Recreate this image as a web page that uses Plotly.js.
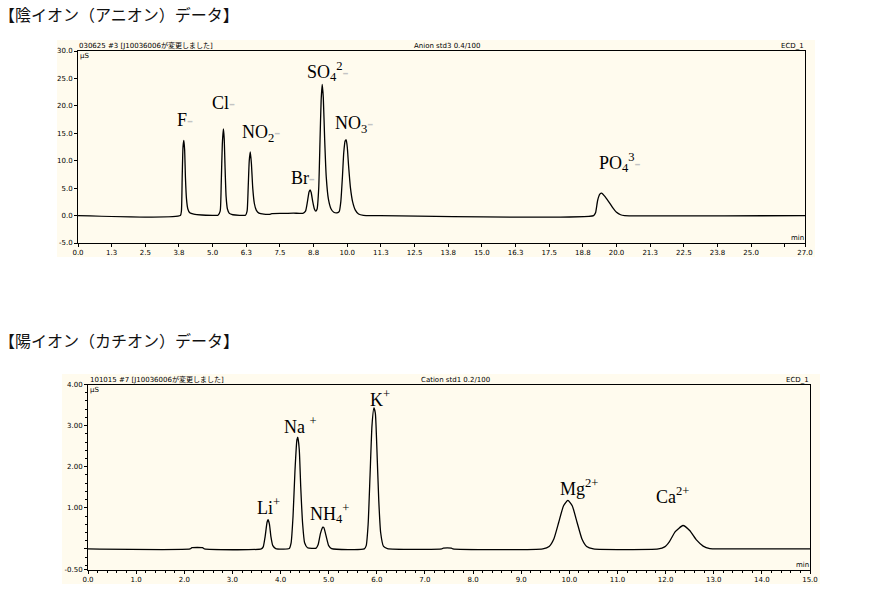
<!DOCTYPE html>
<html>
<head>
<meta charset="utf-8">
<script src="https://cdn.plot.ly/plotly-3.0.1.min.js"></script>
<style>
html,body{margin:0;padding:0;background:#fff;}
#chart{width:870px;height:605px;}
</style>
</head>
<body>
<div id="chart"></div>
<script>
// ---------- Data ----------
// Anion chromatogram (time in min, conductivity in μS)
const anionTime = [0, 3.80, 3.84, 3.87, 3.90, 3.93, 3.96, 3.99, 4.03, 4.08, 4.15, 4.30, 4.60, 5.00, 5.20,
  5.28, 5.32, 5.36, 5.40, 5.43, 5.46, 5.50, 5.55, 5.62, 5.75, 6.00, 6.22,
  6.28, 6.32, 6.36, 6.40, 6.44, 6.49, 6.55, 6.62, 6.72, 6.90, 7.10, 7.20, 7.60, 8.00, 8.35,
  8.45, 8.52, 8.58, 8.62, 8.66, 8.72, 8.78, 8.83, 8.88, 8.94, 8.99, 9.03, 9.07, 9.11, 9.16, 9.22, 9.30, 9.40, 9.50, 9.62,
  9.70, 9.76, 9.82, 9.87, 9.92, 9.96, 10.00, 10.05, 10.12, 10.20, 10.30, 10.42, 10.60, 11.00,
  19.15, 19.22, 19.30, 19.38, 19.45, 19.55, 19.70, 19.85, 20.00, 20.15, 20.30, 27.0];
const anionSignal = [0, 0, 0.8, 7, 12.5, 13.7, 12, 7, 3, 1.2, 0.5, 0.25, 0.1, 0.05, 0.05,
  0.8, 6, 13, 15.8, 14, 9, 3.5, 1.2, 0.4, 0.15, 0.05, 0.05,
  0.8, 5, 10, 11.6, 9.5, 5, 2.2, 1.0, 0.45, 0.25, 0.22, 0.35, 0.4, 0.45, 0.4,
  0.8, 2.5, 4.3, 4.7, 4.2, 2.5, 1.2, 0.8, 1.2, 5, 14, 21, 23.9, 21.5, 14, 7, 3, 1.2, 0.6, 0.5,
  0.7, 2.5, 7, 11.5, 13.6, 13.8, 12.5, 9, 5, 2.5, 1, 0.3, 0.05, 0,
  0, 0.5, 2.8, 3.9, 4.1, 3.6, 2.6, 1.5, 0.6, 0.15, 0, 0];

// Cation chromatogram (time in min, conductivity in μS)
const cationTime = [0, 2.12, 2.16, 2.38, 2.42, 3.60, 3.64, 3.68, 3.72, 3.74, 3.77, 3.80, 3.84, 3.90,
  4.18, 4.22, 4.26, 4.30, 4.34, 4.36, 4.39, 4.42, 4.46, 4.50, 4.56,
  4.74, 4.78, 4.83, 4.88, 4.90, 4.95, 5.00, 5.06,
  5.74, 5.78, 5.82, 5.86, 5.90, 5.94, 5.97, 6.00, 6.04, 6.08, 6.14, 6.22,
  7.35, 7.38, 7.55, 7.58,
  9.45, 9.58, 9.68, 9.78, 9.88, 9.97, 10.06, 10.16, 10.26, 10.36, 10.50,
  11.85, 11.98, 12.08, 12.20, 12.36, 12.50, 12.64, 12.78, 12.92, 13.10, 15.0];
const cationSignal = [0, 0, 0.03, 0.03, 0, 0, 0.05, 0.3, 0.65, 0.71, 0.6, 0.3, 0.08, 0.01,
  0.01, 0.15, 0.8, 1.9, 2.65, 2.72, 2.4, 1.5, 0.6, 0.15, 0.03,
  0.02, 0.1, 0.38, 0.53, 0.52, 0.3, 0.08, 0.01,
  0, 0.08, 0.6, 1.8, 3.0, 3.43, 3.3, 2.5, 1.2, 0.4, 0.06, 0.01,
  0, 0.02, 0.02, 0,
  0, 0.06, 0.25, 0.65, 1.05, 1.18, 1.05, 0.65, 0.25, 0.06, 0,
  0, 0.05, 0.18, 0.42, 0.57, 0.45, 0.22, 0.07, 0.01, 0, 0];

// Tick labels
const anionXTicks = [0, 1.25, 2.5, 3.75, 5, 6.25, 7.5, 8.75, 10, 11.25, 12.5, 13.75, 15, 16.25, 17.5, 18.75, 20, 21.25, 22.5, 23.75, 25, 26.25, 27];
const anionXLabels = ['0.0','1.3','2.5','3.8','5.0','6.3','7.5','8.8','10.0','11.3','12.5','13.8','15.0','16.3','17.5','18.8','20.0','21.3','22.5','23.8','25.0','','27.0'];
const anionYTicks = [-5, 0, 5, 10, 15, 20, 25, 30];
const anionYLabels = ['-5.0','0.0','5.0','10.0','15.0','20.0','25.0','30.0'];
const cationXTicks = [0,1,2,3,4,5,6,7,8,9,10,11,12,13,14,15];
const cationXLabels = ['0.0','1.0','2.0','3.0','4.0','5.0','6.0','7.0','8.0','9.0','10.0','11.0','12.0','13.0','14.0','15.0'];
const cationYTicks = [-0.5, 0, 1, 2, 3, 4];
const cationYLabels = ['-0.50','','1.00','2.00','3.00','4.00'];

// Peak labels
const minus = '<span style="color:#c4c4c4">-</span>';
const anionPeakNames = ['F'+minus, 'Cl'+minus, 'NO<sub>2</sub>'+minus, 'Br'+minus, 'SO<sub>4</sub><sup>2</sup>'+minus, 'NO<sub>3</sub>'+minus, 'PO<sub>4</sub><sup>3</sup>'+minus];
const anionPeakLabelX = [3.62, 4.92, 6.00, 7.82, 8.42, 9.46, 19.27];
const anionPeakLabelY = [17.5, 20.5, 15.0, 6.8, 26.3, 16.6, 9.7];
const cationPeakNames = ['Li<sup>+</sup>', 'Na <sup>+</sup>', 'NH<sub>4</sub><sup>+</sup>', 'K<sup>+</sup>', 'Mg<sup>2+</sup>', 'Ca<sup>2+</sup>'];
const cationPeakLabelX = [3.47, 4.03, 4.57, 5.82, 9.77, 11.75];
const cationPeakLabelY = [1.03, 3.0, 0.86, 3.66, 1.5, 1.3];

// ---------- Layout helpers ----------
const W = 870, H = 605;
const px = v => v / W;
const py = v => 1 - v / H;
const tickFont = {family: 'DejaVu Sans, Noto Sans CJK JP', size: 7, color: '#000'};
const peakFont = {family: 'Liberation Serif, Times New Roman, serif', size: 18, color: '#000'};
const titleFont = {family: 'Noto Sans CJK JP', size: 16, color: '#111'};

const traces = [
  {x: anionTime, y: anionSignal, xaxis: 'x', yaxis: 'y', mode: 'lines', hoverinfo: 'skip',
   line: {color: '#000', width: 1.3, shape: 'spline', smoothing: 0.5}},
  {x: cationTime, y: cationSignal, xaxis: 'x2', yaxis: 'y2', mode: 'lines', hoverinfo: 'skip',
   line: {color: '#000', width: 1.3, shape: 'spline', smoothing: 0.5}}
];

const axBase = {showgrid: false, zeroline: false, showline: true, mirror: true, linecolor: '#000', linewidth: 1,
  ticks: 'outside', ticklen: 3, tickcolor: '#000', tickwidth: 1, tickfont: tickFont, tickmode: 'array', fixedrange: true};

const annotations = [];
anionPeakNames.forEach((t, i) => annotations.push({text: t, x: anionPeakLabelX[i], y: anionPeakLabelY[i], xref: 'x', yref: 'y',
  xanchor: 'left', yanchor: 'middle', showarrow: false, font: peakFont}));
cationPeakNames.forEach((t, i) => annotations.push({text: t, x: cationPeakLabelX[i], y: cationPeakLabelY[i], xref: 'x2', yref: 'y2',
  xanchor: 'left', yanchor: 'middle', showarrow: false, font: peakFont}));

function addText(text, x, y, xa, ya, font) {
  annotations.push({text: text, x: px(x), y: py(y), xref: 'paper', yref: 'paper', xanchor: xa, yanchor: ya,
    showarrow: false, font: font, borderpad: 0});
}
addText('【陰イオン（アニオン）データ】', -2, 14, 'left', 'middle', titleFont);
addText('【陽イオン（カチオン）データ】', -2, 340, 'left', 'middle', titleFont);
// Top chart header
addText('030625 #3 [J10036006が変更しました]', 78, 51, 'left', 'bottom', tickFont);
addText('Anion std3 0.4/100', 413, 51, 'left', 'bottom', tickFont);
addText('ECD_1', 805, 51, 'right', 'bottom', tickFont);
addText('μS', 79, 51, 'left', 'top', tickFont);
addText('min', 805, 243, 'right', 'bottom', tickFont);
// Bottom chart header
addText('101015 #7 [J10036006が変更しました]', 89, 384.5, 'left', 'bottom', tickFont);
addText('Cation std1 0.2/100', 420, 384.5, 'left', 'bottom', tickFont);
addText('ECD_1', 810, 384.5, 'right', 'bottom', tickFont);
addText('μS', 89, 384.5, 'left', 'top', tickFont);
addText('min', 810, 569.5, 'right', 'bottom', tickFont);

const shapes = [
  {type: 'rect', xref: 'paper', yref: 'paper', x0: px(57), x1: px(815), y0: py(257), y1: py(40), fillcolor: '#fffbee', line: {width: 0}, layer: 'below'},
  {type: 'rect', xref: 'paper', yref: 'paper', x0: px(62), x1: px(820), y0: py(584), y1: py(374), fillcolor: '#fffbee', line: {width: 0}, layer: 'below'}
];

const layout = {
  width: W, height: H,
  margin: {l: 0, r: 0, t: 0, b: 0, pad: 0},
  paper_bgcolor: '#ffffff',
  plot_bgcolor: 'rgba(0,0,0,0)',
  showlegend: false,
  xaxis: Object.assign({}, axBase, {domain: [px(78), px(805)], range: [0, 27], tickvals: anionXTicks, ticktext: anionXLabels, anchor: 'y'}),
  yaxis: Object.assign({}, axBase, {domain: [py(243), py(51)], range: [-5, 30], tickvals: anionYTicks, ticktext: anionYLabels, anchor: 'x'}),
  xaxis2: Object.assign({}, axBase, {domain: [px(88), px(810)], range: [0, 15], tickvals: cationXTicks, ticktext: cationXLabels, anchor: 'y2',
    minor: {tickmode: 'linear', tick0: 0, dtick: 0.2, ticks: 'outside', ticklen: 2, tickcolor: '#000', showgrid: false}}),
  yaxis2: Object.assign({}, axBase, {domain: [py(569.5), py(384.5)], range: [-0.5, 4], tickvals: cationYTicks, ticktext: cationYLabels, anchor: 'x2',
    minor: {tickmode: 'linear', tick0: 0, dtick: 0.2, ticks: 'outside', ticklen: 2, tickcolor: '#000', showgrid: false}}),
  annotations: annotations,
  shapes: shapes
};

Plotly.newPlot('chart', traces, layout, {displayModeBar: false, staticPlot: true});
</script>
</body>
</html>
